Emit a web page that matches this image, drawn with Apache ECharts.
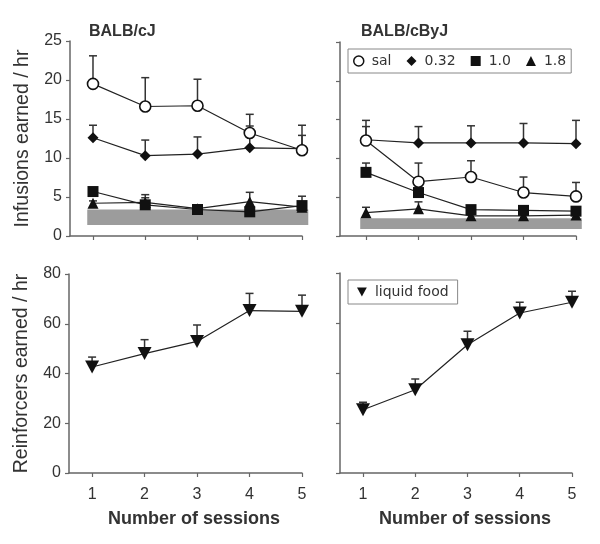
<!DOCTYPE html>
<html>
<head>
<meta charset="utf-8">
<script src="https://cdn.jsdelivr.net/npm/echarts@6/dist/echarts.min.js"></script>
<style>html,body{margin:0;padding:0;background:#fff}#c{width:600px;height:544px}</style>
</head>
<body>
<div id="c"></div>
<script>
// ---- data ----
const sessions = [1, 2, 3, 4, 5];
const xTicks = [1, 2, 3, 4, 5];
const infTicks = [0, 5, 10, 15, 20, 25];
const foodTicks = [0, 20, 40, 60, 80];

const cj_sal = [19.5, 16.6, 16.7, 13.2, 11.0];
const cj_sal_sem = [3.6, 3.7, 3.4, 2.4, 3.2];
const cj_032 = [12.6, 10.3, 10.5, 11.3, 11.2];
const cj_032_sem = [1.6, 2.0, 2.2, 2.8, 1.7];
const cj_10 = [5.7, 4.0, 3.4, 3.1, 3.9];
const cj_10_sem = [0.4, 1.3, 0.4, 0.3, 1.2];
const cj_18 = [4.2, 4.3, 3.5, 4.4, 3.7];
const cj_18_sem = [0.3, 0.6, 0.3, 1.2, 0.5];
const cj_band = [1.4, 3.4];
const cj_bandX = [0.89, 5.12];

const cbyj_sal = [12.3, 7.0, 7.6, 5.6, 5.1];
const cbyj_sal_sem = [1.8, 2.4, 2.1, 2.0, 1.8];
const cbyj_032 = [12.4, 12.0, 12.0, 12.0, 11.9];
const cbyj_032_sem = [2.5, 2.1, 2.2, 2.5, 3.0];
const cbyj_10 = [8.2, 5.6, 3.4, 3.3, 3.2];
const cbyj_10_sem = [1.2, 0.4, 0.3, 0.3, 0.3];
const cbyj_18 = [3.0, 3.5, 2.6, 2.6, 2.7];
const cbyj_18_sem = [0.7, 0.9, 0.2, 0.2, 0.2];
const cbyj_band = [0.9, 2.3];
const cbyj_bandX = [0.89, 5.11];

const food_cj = [42.6, 48.0, 52.9, 65.3, 65.0];
const food_cj_sem = [4.0, 5.6, 6.6, 6.9, 6.5];
const food_cbyj = [25.3, 33.3, 51.3, 64.0, 68.3];
const food_cbyj_sem = [3.0, 4.3, 5.4, 4.3, 4.4];

// ---- helpers ----
const FONT = 'Liberation Sans, Arial, sans-serif';
const LFONT = 'DejaVu Sans, Verdana, sans-serif';
const INV_TRI = 'path://M0,0 L12,0 L6,11 Z';
const pts = v => sessions.map((s, i) => [s, v[i]]);
const errPts = (v, e) => sessions.map((s, i) => [s, v[i], v[i] + e[i]]);

function errSeries(v, e, xi, yi) {
  return {
    type: 'custom', xAxisIndex: xi, yAxisIndex: yi, z: 1, silent: true,
    data: errPts(v, e),
    renderItem: function (params, api) {
      const p0 = api.coord([api.value(0), api.value(1)]);
      const p1 = api.coord([api.value(0), api.value(2)]);
      const st = { stroke: '#333', lineWidth: 1.5 };
      return {
        type: 'group', children: [
          { type: 'line', shape: { x1: p0[0], y1: p0[1], x2: p1[0], y2: p1[1] }, style: st },
          { type: 'line', shape: { x1: p1[0] - 4, y1: p1[1], x2: p1[0] + 4, y2: p1[1] }, style: st }
        ]
      };
    }
  };
}
function lineSeries(name, v, xi, yi, symbol, size, fill) {
  return {
    type: 'line', name: name, xAxisIndex: xi, yAxisIndex: yi, z: 3,
    data: pts(v), symbol: symbol, symbolSize: size, showSymbol: true,
    lineStyle: { color: '#222', width: 1.2 },
    itemStyle: { color: fill || '#111', borderColor: '#111', borderWidth: fill ? 1.6 : 0, opacity: 1 },
    emphasis: { disabled: true }, animation: false
  };
}
function bandSeries(band, bx, xi, yi) {
  return {
    type: 'custom', xAxisIndex: xi, yAxisIndex: yi, z: 0, silent: true,
    data: [[bx[0], band[0], bx[1], band[1]]],
    renderItem: function (params, api) {
      const a = api.coord([api.value(0), api.value(3)]);
      const b = api.coord([api.value(2), api.value(1)]);
      return { type: 'rect', shape: { x: a[0], y: a[1], width: b[0] - a[0], height: b[1] - a[1] }, style: { fill: '#9c9c9c' } };
    }
  };
}
function xAx(gi, min, labels) {
  return {
    type: 'value', gridIndex: gi, min: min, max: 5,
    axisLine: { show: true, onZero: false, lineStyle: { color: '#666', width: 1.5 } },
    axisTick: { show: true, customValues: xTicks, length: 4, lineStyle: { color: '#666', width: 1.2 } },
    axisLabel: { show: labels, customValues: xTicks, fontSize: 16, color: '#333', fontFamily: FONT, margin: 14 },
    splitLine: { show: false }
  };
}
function yAx(gi, max, ticks, labels, name) {
  return {
    type: 'value', gridIndex: gi, min: 0, max: max, interval: ticks[1] - ticks[0],
    name: name || '', nameLocation: 'middle', nameRotate: 90, nameGap: 37,
    nameTextStyle: { fontSize: 19.5, color: '#333', fontFamily: FONT },
    axisLine: { show: true, lineStyle: { color: '#666', width: 1.5 } },
    axisTick: { show: true, length: 4, lineStyle: { color: '#666', width: 1.2 } },
    axisLabel: { show: labels, fontSize: 16, color: '#333', fontFamily: FONT, margin: 8 },
    splitLine: { show: false }
  };
}

const option = {
  backgroundColor: '#fff',
  animation: false,
  textStyle: { fontFamily: FONT },
  title: [
    { text: 'BALB/cJ', left: 84, top: 19, textStyle: { fontSize: 16, fontWeight: 'bold', color: '#333', fontFamily: FONT } },
    { text: 'BALB/cByJ', left: 356, top: 19, textStyle: { fontSize: 16, fontWeight: 'bold', color: '#333', fontFamily: FONT } }
  ],
  grid: [
    { left: 70, top: 41, width: 232, height: 195 },
    { left: 340, top: 42, width: 236, height: 194 },
    { left: 69, top: 274, width: 233, height: 199 },
    { left: 340, top: 273, width: 232, height: 200 }
  ],
  xAxis: [xAx(0, 0.56, false), xAx(1, 0.505, false), xAx(2, 0.56, true), xAx(3, 0.56, true)],
  yAxis: [
    yAx(0, 25, infTicks, true, 'Infusions earned / hr'),
    yAx(1, 25, infTicks, false),
    yAx(2, 80, foodTicks, true, 'Reinforcers earned / hr'),
    yAx(3, 80, foodTicks, false)
  ],
  legend: [
    {
      left: 348, top: 49, padding: [5, 5, 5, 5], itemGap: 15,
      borderColor: '#888', borderWidth: 1, itemWidth: 10, itemHeight: 10,
      textStyle: { fontSize: 14, color: '#333', fontFamily: LFONT, padding: [0, 0, 0, 3] },
      selectedMode: false,
      data: [
        { name: 'sal', icon: 'circle', itemStyle: { color: '#fff', borderColor: '#111', borderWidth: 1.5 } },
        { name: '0.32', icon: 'diamond' },
        { name: '1.0', icon: 'rect' },
        { name: '1.8', icon: 'triangle' }
      ]
    },
    {
      left: 348, top: 280, padding: [5, 9, 5, 9], borderColor: '#888', borderWidth: 1,
      itemWidth: 10, itemHeight: 9, selectedMode: false,
      textStyle: { fontSize: 14, color: '#333', fontFamily: LFONT, padding: [0, 0, 0, 3] },
      data: [{ name: 'liquid food', icon: INV_TRI }]
    }
  ],
  graphic: [
    { type: 'text', x: 194, y: 519, style: { text: 'Number of sessions', font: 'bold 18px ' + FONT, fill: '#333', align: 'center', verticalAlign: 'middle' } },
    { type: 'text', x: 465, y: 519, style: { text: 'Number of sessions', font: 'bold 18px ' + FONT, fill: '#333', align: 'center', verticalAlign: 'middle' } }
  ],
  series: [
    bandSeries(cj_band, cj_bandX, 0, 0),
    bandSeries(cbyj_band, cbyj_bandX, 1, 1),
    errSeries(cj_sal, cj_sal_sem, 0, 0),
    errSeries(cj_032, cj_032_sem, 0, 0),
    errSeries(cj_10, cj_10_sem, 0, 0),
    errSeries(cj_18, cj_18_sem, 0, 0),
    errSeries(cbyj_sal, cbyj_sal_sem, 1, 1),
    errSeries(cbyj_032, cbyj_032_sem, 1, 1),
    errSeries(cbyj_10, cbyj_10_sem, 1, 1),
    errSeries(cbyj_18, cbyj_18_sem, 1, 1),
    errSeries(food_cj, food_cj_sem, 2, 2),
    errSeries(food_cbyj, food_cbyj_sem, 3, 3),
    lineSeries('1.8', cj_18, 0, 0, 'triangle', 11),
    lineSeries('1.0', cj_10, 0, 0, 'rect', 11),
    lineSeries('0.32', cj_032, 0, 0, 'diamond', 11),
    lineSeries('sal', cj_sal, 0, 0, 'circle', 11, '#fff'),
    lineSeries('1.8', cbyj_18, 1, 1, 'triangle', 11),
    lineSeries('1.0', cbyj_10, 1, 1, 'rect', 11),
    lineSeries('0.32', cbyj_032, 1, 1, 'diamond', 11),
    lineSeries('sal', cbyj_sal, 1, 1, 'circle', 11, '#fff'),
    lineSeries('liquid food', food_cj, 2, 2, INV_TRI, [14, 13]),
    lineSeries('liquid food', food_cbyj, 3, 3, INV_TRI, [14, 13])
  ]
};
const chart = echarts.init(document.getElementById('c'), null, { renderer: 'canvas' });
chart.setOption(option);
</script>
</body>
</html>
